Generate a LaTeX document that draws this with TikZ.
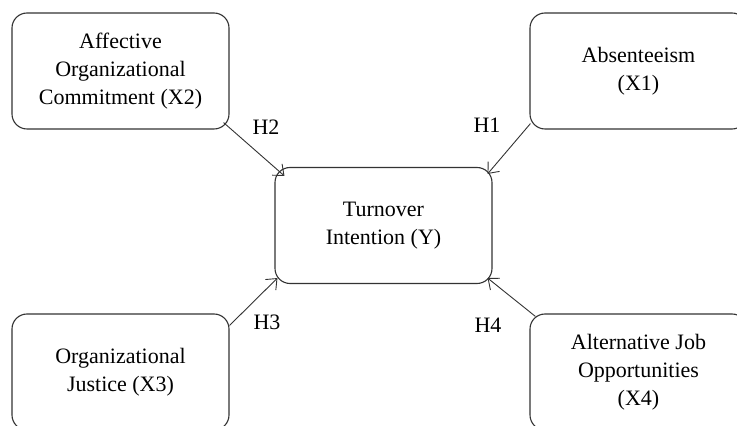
\documentclass[tikz,border=0pt]{standalone}
\usepackage{fontspec}
\setmainfont{Liberation Serif}
\usetikzlibrary{arrows.meta}
\begin{document}
\begin{tikzpicture}[x=1pt,y=1pt]
	\tikzstyle{factor}=[rectangle,rounded corners=15pt,draw=black!80,line width=1.1pt,minimum width=217pt,minimum height=116pt,align=center,font=\fontsize{22}{28}\selectfont]
	\tikzstyle{hyp}=[font=\fontsize{22}{26}\selectfont]
	\tikzstyle{edge}=[draw=black!80,line width=0.9pt,-{Straight Barb[length=9pt,width=15pt]}]
	\useasboundingbox (0,0) rectangle (737,426);
	\begin{scope}
		\node [factor] (x2) at (120.5,355) {Affective\\Organizational\\Commitment (X2)};
		\node [factor] (x1) at (638.5,355) {Absenteeism\\(X1)};
		\node [factor] (x3) at (120.5,54) {Organizational\\Justice (X3)};
		\node [factor] (x4) at (638.5,54) {Alternative Job\\Opportunities\\(X4)};
		\node [factor] (y) at (383.5,200.5) {Turnover\\Intention (Y)};

		\path ([shift={(-6,7)}]x2.south east) edge[edge] ([shift={(10,-9)}]y.north west);
		\path ([shift={(1,6)}]x1.south west) edge[edge] ([shift={(-5,-7)}]y.north east);
		\path ([shift={(0,-12)}]x3.north east) edge[edge] ([shift={(3,6)}]y.south west);
		\path ([shift={(6,-3)}]x4.north west) edge[edge] ([shift={(-5,6)}]y.south east);

		\node [hyp] (h2) at (266,299) {H2};
		\node [hyp] (h1) at (487,301) {H1};
		\node [hyp] (h3) at (267,104) {H3};
		\node [hyp] (h4) at (488,101) {H4};
	\end{scope}
\end{tikzpicture}
\end{document}
